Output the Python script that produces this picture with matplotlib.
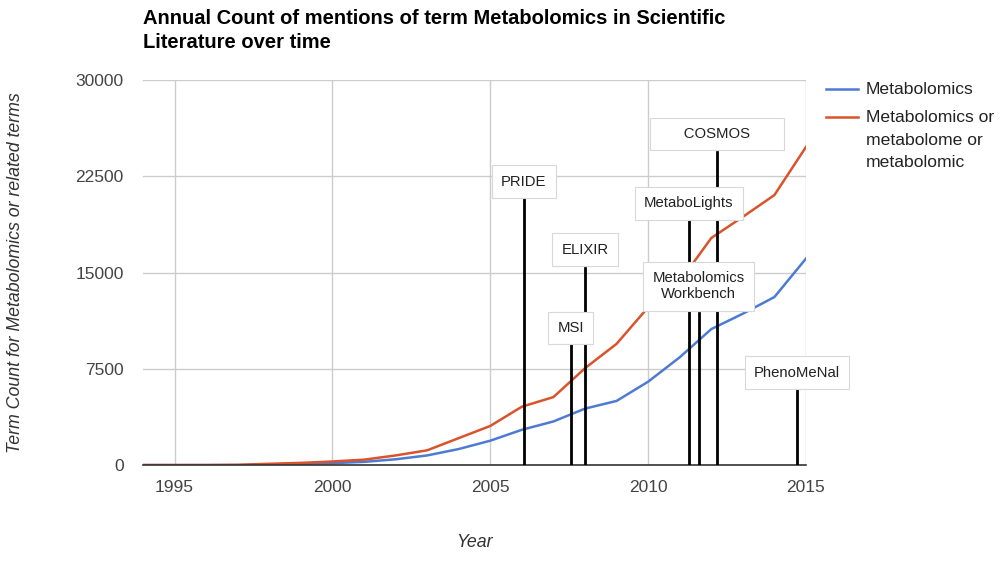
import matplotlib.pyplot as plt
from matplotlib.lines import Line2D

plt.rcParams['font.family'] = ['Liberation Sans', 'DejaVu Sans']

# data
years = list(range(1994, 2016))
metabolomics = [0, 0, 0, 0, 30, 80, 150, 250, 450, 750, 1250, 1900,
                2750, 3400, 4400, 5000, 6500, 8400, 10600, 11800, 13100, 16100]
related = [0, 0, 0, 20, 100, 170, 280, 420, 750, 1150, 2100, 3050,
           4550, 5300, 7550, 9450, 12300, 14300, 17700, 19350, 21050, 24800]
series_names = ['Metabolomics', 'Metabolomics or\nmetabolome or\nmetabolomic']
series_colors = ['#4d7bd3', '#d9532b']

# annotations: label, year, line top, label centre
events = ["PRIDE", "MSI", "ELIXIR", "MetaboLights", "Metabolomics\nWorkbench",
          "      COSMOS      ", "PhenoMeNal"]
event_year = [2006.06, 2007.55, 2008.0, 2011.29, 2011.6, 2012.17, 2014.72]
event_top = [20900, 9350, 15350, 19100, 11850, 24400, 5850]
event_label_y = [22100, 10700, 16800, 20400, 13950, 25800, 7200]

fig = plt.figure(figsize=(10, 5.61), dpi=100)
ax = fig.add_axes([0.143, 0.171, 0.663, 0.686])

for vals, name, col in zip([metabolomics, related], series_names, series_colors):
    ax.plot(years, vals, color=col, lw=1.8, label=name)

for name, yr, top, ly in zip(events, event_year, event_top, event_label_y):
    ax.plot([yr, yr], [0, top], color='black', lw=2, zorder=3)
    ax.text(yr, ly, name, ha='center', va='center', fontsize=10.7, color='#222222',
            linespacing=1.25, zorder=4,
            bbox=dict(boxstyle='square,pad=0.62', fc='white', ec='#d8d8d8', lw=0.8))

ax.set_xlim(1994, 2015)
ax.set_ylim(0, 30000)
ax.set_xticks([1995, 2000, 2005, 2010, 2015])
ax.set_yticks([0, 7500, 15000, 22500, 30000])
ax.tick_params(length=0, labelsize=12.5, colors='#444444')
ax.tick_params(axis='y', pad=14)
ax.tick_params(axis='x', pad=11)
ax.grid(True, color='#cccccc', lw=1)
ax.set_axisbelow(True)
for s in ['top', 'right', 'left']:
    ax.spines[s].set_visible(False)
ax.spines['bottom'].set_color('#333333')
ax.spines['bottom'].set_linewidth(1.2)

ax.set_xlabel('Year', fontsize=12.8, style='italic', color='#333333', labelpad=28)
ax.set_ylabel('Term Count for Metabolomics or related terms', fontsize=12.8,
              style='italic', color='#333333', labelpad=37)

fig.text(0.143, 0.984, 'Annual Count of mentions of term Metabolomics in Scientific\nLiterature over time',
         ha='left', va='top', fontsize=14.5, fontweight='bold', color='#000000', linespacing=1.32)

# legend, first line of each entry next to its swatch
leg_y = [1 - 89 / 561, 1 - 117 / 561]
for name, col, y in zip(series_names, series_colors, leg_y):
    fig.add_artist(Line2D([0.826, 0.858], [y, y], color=col, lw=1.8))
    fig.text(0.866, y + 0.5 * 13 / 561, name, ha='left', va='top', fontsize=12.6,
             color='#222222', linespacing=1.62)

fig.savefig('out.png', dpi=100)
